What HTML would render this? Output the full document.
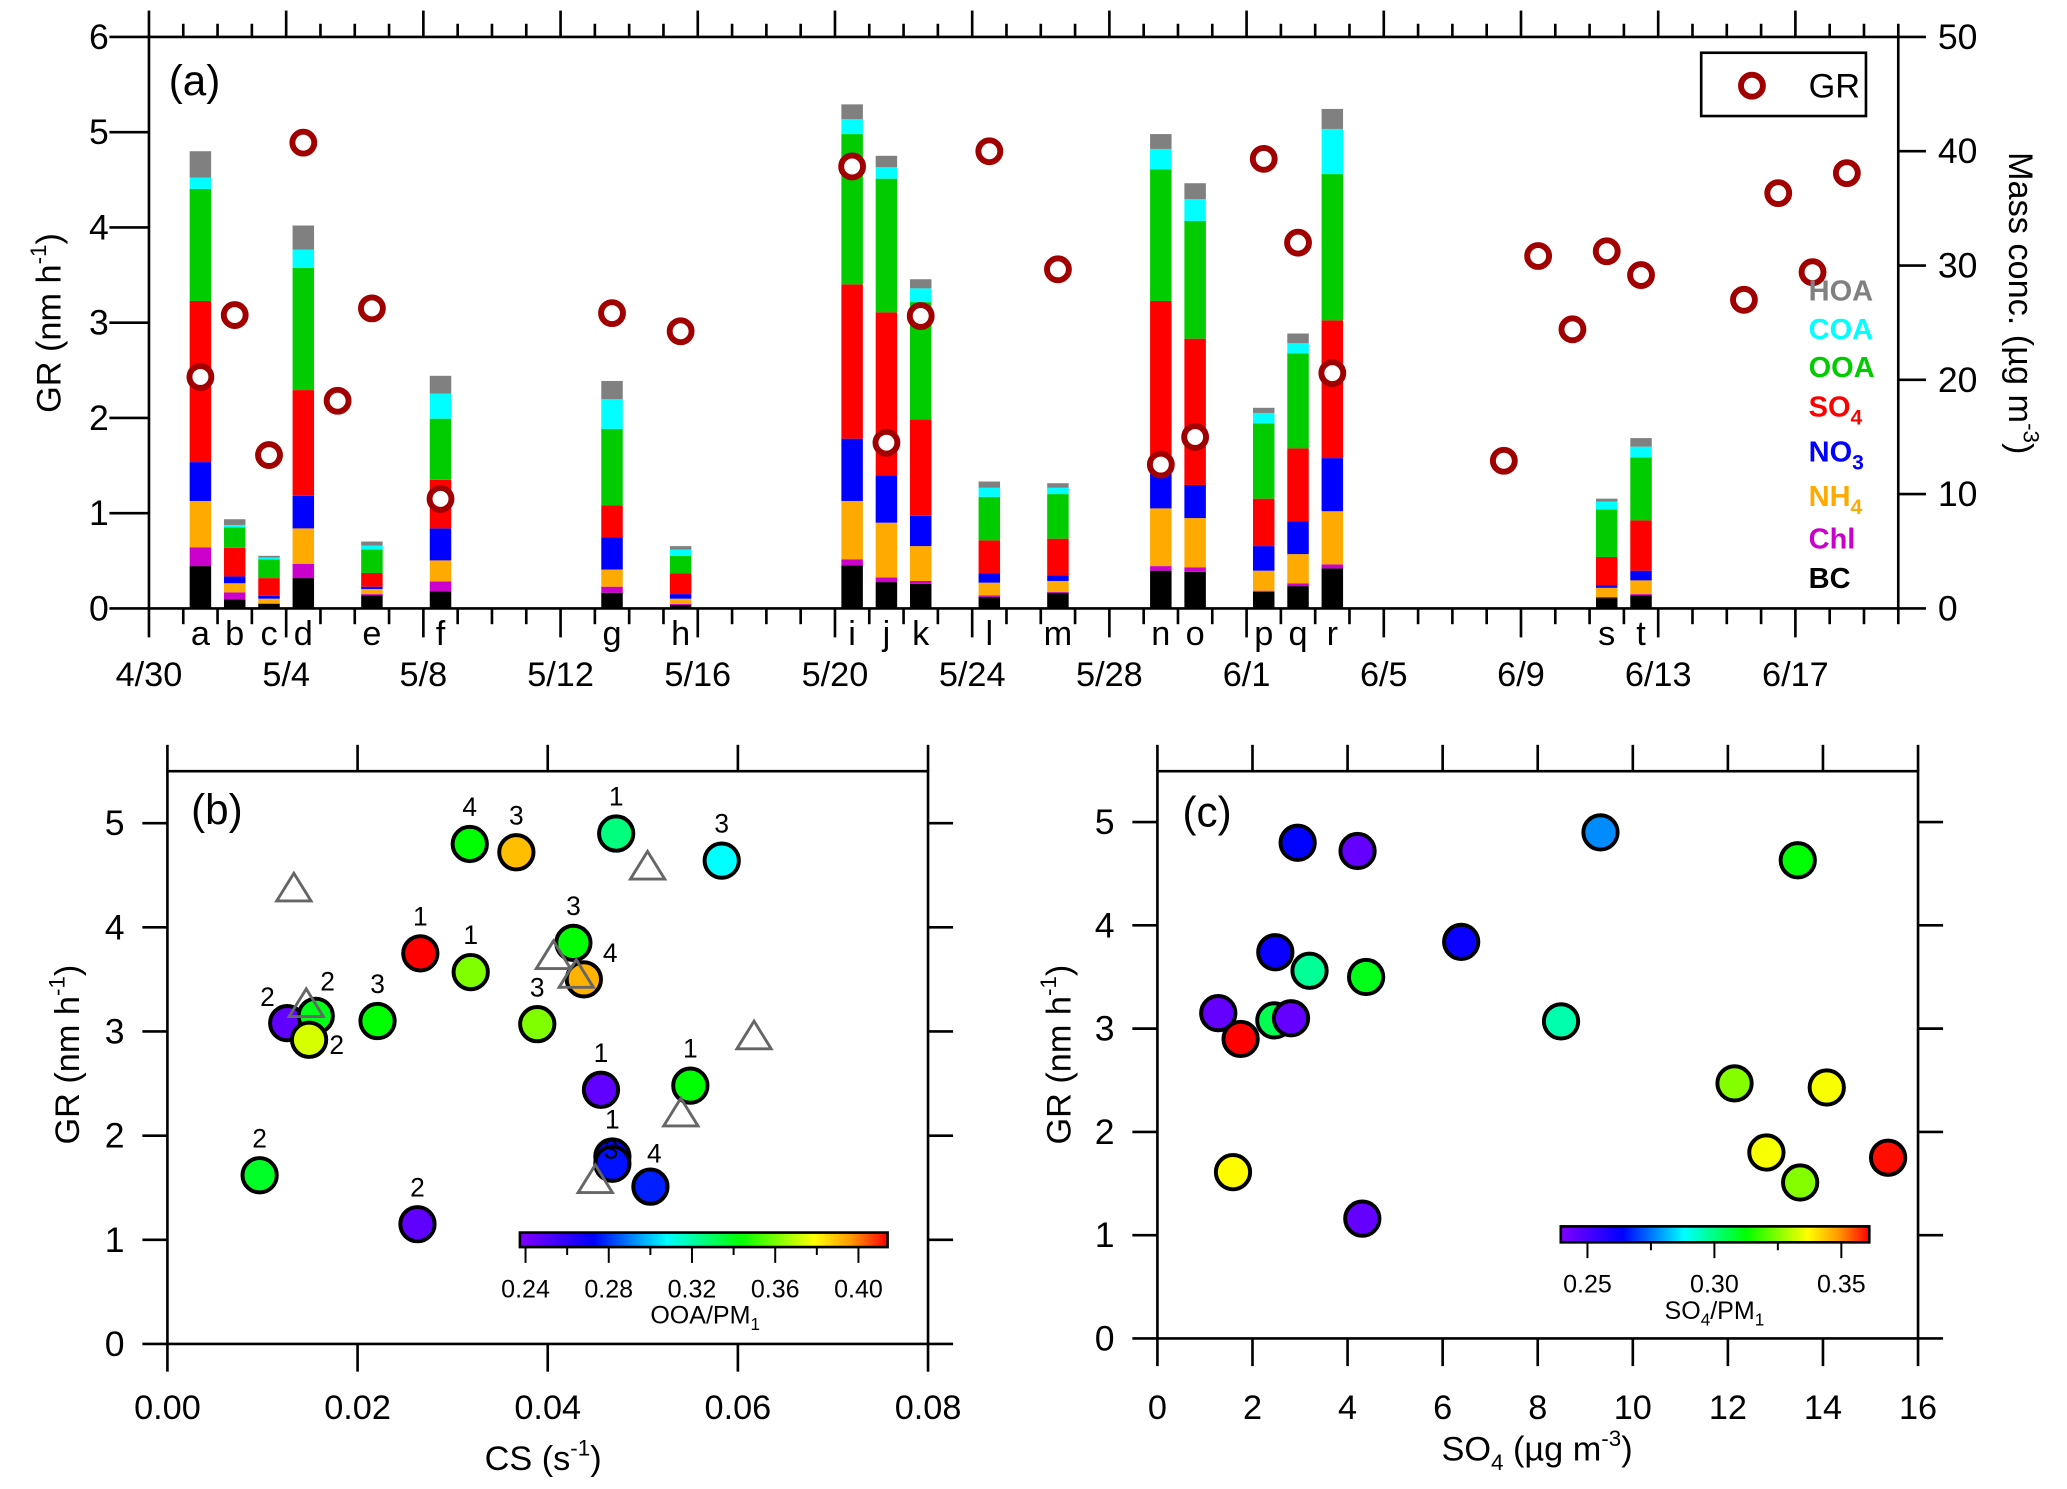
<!DOCTYPE html>
<html><head><meta charset="utf-8"><style>
html,body{margin:0;padding:0;background:#fff}
svg{display:block}
text{font-family:"Liberation Sans","DejaVu Sans",sans-serif;fill:#000}
</style></head><body>
<svg id="fig" xmlns="http://www.w3.org/2000/svg" width="2067" height="1489" viewBox="0 0 1568 1129.5">
<defs>
<linearGradient id="rb" x1="0" x2="1" y1="0" y2="0">
<stop offset="0" stop-color="#8000ff"/><stop offset="0.2" stop-color="#0000ff"/><stop offset="0.4" stop-color="#00ffff"/><stop offset="0.6" stop-color="#00ff00"/><stop offset="0.8" stop-color="#ffff00"/><stop offset="0.9" stop-color="#ff9900"/><stop offset="1" stop-color="#ff0000"/>
</linearGradient>
</defs>
<g id="pa"></g>
<g id="pb"></g>
<g id="pc"></g>
</svg>
<script>
// ---- Panel (a) data ----
const barLetters = ["a","b","c","d","e","f","g","h","i","j","k","l","m","n","o","p","q","r","s","t"];
const barDays = [1.5,2.5,3.5,4.5,6.5,8.5,13.5,15.5,20.5,21.5,22.5,24.5,26.5,29.5,30.5,32.5,33.5,34.5,42.5,43.5];
const bcVals  = [3.7,0.8,0.4,2.65,1.13,1.5,1.37,0.3,3.75,2.3,2.15,1.0,1.37,3.3,3.2,1.45,1.95,3.5,0.9,1.15];
const chlVals = [1.65,0.6,0.05,1.25,0.12,0.85,0.53,0.1,0.55,0.4,0.25,0.15,0.08,0.4,0.4,0.1,0.25,0.35,0.1,0.1];
const nh4Vals = [4.05,0.8,0.4,3.1,0.45,1.85,1.5,0.45,5.1,4.8,3.05,1.1,0.95,5.05,4.3,1.75,2.55,4.65,0.8,1.2];
const no3Vals = [3.4,0.6,0.25,2.85,0.2,2.8,2.8,0.4,5.45,4.15,2.65,0.8,0.5,4.6,2.9,2.15,2.85,4.65,0.2,0.85];
const so4Vals = [14.1,2.5,1.55,9.25,1.2,4.25,2.8,1.8,13.5,14.25,8.45,2.9,3.2,13.55,12.8,4.15,6.4,12.05,2.5,4.4];
const ooaVals = [9.8,1.8,1.65,10.7,2.05,5.35,6.7,1.55,13.15,11.7,10.25,3.8,3.9,11.5,10.3,6.6,8.3,12.8,4.15,5.5];
const coaVals = [1.0,0.2,0.15,1.6,0.35,2.2,2.6,0.55,1.3,1.0,1.2,0.8,0.55,1.8,1.9,0.9,0.9,3.95,0.7,0.95];
const hoaVals = [2.3,0.5,0.15,2.1,0.35,1.55,1.6,0.3,1.3,1.0,0.8,0.55,0.4,1.3,1.4,0.45,0.85,1.75,0.25,0.75];
const grDays = [1.5,2.5,3.5,4.5,5.5,6.5,8.5,13.5,15.5,20.5,21.5,22.5,24.5,26.5,29.5,30.5,32.5,33.5,34.5,39.5,40.5,41.5,42.5,43.5,46.5,47.5,48.5,49.5];
const grVals = [2.43,3.08,1.61,4.89,2.18,3.15,1.15,3.10,2.91,4.64,1.74,3.07,4.80,3.56,1.51,1.80,4.72,3.84,2.47,1.55,3.70,2.93,3.75,3.50,3.24,4.36,3.53,4.57];
const grTicks = [0,1,2,3,4,5,6];
const massTicks = [0,10,20,30,40,50];
const dateLabels = ["4/30","5/4","5/8","5/12","5/16","5/20","5/24","5/28","6/1","6/5","6/9","6/13","6/17"];
// ---- Panel (b) data ----
const csVals = [0.0318,0.0367,0.0472,0.0583,0.0266,0.0319,0.0427,0.0438,0.0126,0.0156,0.0149,0.0221,0.0389,0.0456,0.0550,0.0468,0.0468,0.0508,0.0097,0.0263];
const grB = [4.80,4.72,4.90,4.64,3.75,3.57,3.85,3.50,3.08,3.15,2.92,3.10,3.07,2.44,2.48,1.80,1.73,1.51,1.62,1.15];
const ooaFrac = [0.343,0.39,0.326,0.308,0.414,0.361,0.343,0.392,0.246,0.340,0.373,0.343,0.361,0.246,0.343,0.273,0.275,0.277,0.338,0.246];
const ptLabels = ["4","3","1","3","1","1","3","4","2","2","2","3","3","1","1","1","3","4","2","2"];
const triCS = [0.0133,0.0505,0.0406,0.0430,0.0146,0.0617,0.0540,0.0450];
const triGR = [4.38,4.59,3.73,3.55,3.27,2.96,2.22,1.58];
const csTicks = [0,0.02,0.04,0.06,0.08];
const csTickLabels = ["0.00","0.02","0.04","0.06","0.08"];
const cbBTicks = [0.24,0.28,0.32,0.36,0.40];
const cbBLabels = ["0.24","0.28","0.32","0.36","0.40"];
// ---- Panel (c) data ----
const so4C = [2.95,4.21,9.32,13.47,2.48,3.2,4.39,6.39,1.28,1.75,2.46,2.81,8.49,12.14,14.08,12.81,13.52,15.37,1.59,4.31];
const grC = [4.80,4.72,4.90,4.63,3.74,3.56,3.50,3.84,3.15,2.90,3.08,3.10,3.07,2.47,2.43,1.80,1.51,1.75,1.61,1.16];
const so4Frac = [0.264,0.245,0.277,0.312,0.262,0.298,0.310,0.262,0.245,0.361,0.305,0.245,0.296,0.325,0.336,0.336,0.325,0.36,0.337,0.245];
const so4Ticks = [0,2,4,6,8,10,12,14,16];
const cbCTicks = [0.25,0.30,0.35];
const cbCLabels = ["0.25","0.30","0.35"];

const NS="http://www.w3.org/2000/svg";
function mk(tag, parent, at){const e=document.createElementNS(NS,tag);for(const k in at)e.setAttribute(k,at[k]);parent.appendChild(e);return e;}
function tx(parent,x,y,s,fs,anchor,extra){const e=mk('text',parent,Object.assign({x:x,y:y,'font-size':fs,'text-anchor':anchor||'middle','dominant-baseline':'central'},extra||{}));e.textContent=s;return e;}
const stops=[[0,[128,0,255]],[0.2,[0,0,255]],[0.4,[0,255,255]],[0.6,[0,255,0]],[0.8,[255,255,0]],[0.9,[255,153,0]],[1,[255,0,0]]];
function rainbow(t){t=Math.max(0,Math.min(1,t));for(let i=1;i<stops.length;i++){if(t<=stops[i][0]){const a=stops[i-1],b=stops[i];const f=(t-a[0])/(b[0]-a[0]);const c=a[1].map((v,j)=>Math.round(v+(b[1][j]-v)*f));return 'rgb('+c.join(',')+')';}}return 'rgb(255,0,0)';}

// ================= Panel A =================
const pa=document.getElementById('pa');
const X0=113, DAY=26.02, XR=1440, YT=28, YB=461.5;
const xA=d=>X0+d*DAY, yGR=v=>YB-v*(YB-YT)/6, yM=v=>YB-v*(YB-YT)/50;
const comps=[[bcVals,'#000000','bc'],[chlVals,'#cc00cc','chl'],[nh4Vals,'#ffaa00','nh4'],[no3Vals,'#0000ff','no3'],[so4Vals,'#ff0000','so4'],[ooaVals,'#00cc00','ooa'],[coaVals,'#00ffff','coa'],[hoaVals,'#808080','hoa']];
const BW=16.3;
for(let i=0;i<barDays.length;i++){
  let cum=0;const cx=xA(barDays[i]);
  const g=mk('g',pa,{});
  
  
  for(const [arr,col,nm] of comps){
    const v=arr[i];const r=mk('rect',g,{x:cx-BW/2,y:yM(cum+v),width:BW,height:yM(cum)-yM(cum+v),fill:col});
    
    
    cum+=v;
  }
  const l=tx(pa,cx,481,barLetters[i],26);
  
  
}
// axes frame
const fa=mk('path',pa,{d:`M${X0} ${YT}H${XR}M${X0} ${YB}H${XR}M${X0} ${YT}V${YB}M${XR} ${YT}V${YB}`,stroke:'#000','stroke-width':2,fill:'none'});


// date ticks
for(let d=0;d<=51;d++){
  const x=xA(d);const maj=d%4===0;
  mk('line',pa,{x1:x,x2:x,y1:YB,y2:YB+(maj?22:12),stroke:'#000','stroke-width':2});
  mk('line',pa,{x1:x,x2:x,y1:YT,y2:YT-(maj?20:10),stroke:'#000','stroke-width':2});
}
dateLabels.forEach((s,i)=>{const t=tx(pa,xA(i*4),512,s,26);});
grTicks.forEach(v=>{mk('line',pa,{x1:X0-30,x2:X0,y1:yGR(v),y2:yGR(v),stroke:'#000','stroke-width':2});const t=tx(pa,75,yGR(v),String(v),27);});
massTicks.forEach(v=>{mk('line',pa,{x1:XR,x2:XR+21,y1:yM(v),y2:yM(v),stroke:'#000','stroke-width':2});const t=tx(pa,1470,yM(v),String(v),27,'start');});
// GR circles
for(let i=0;i<grDays.length;i++){
  const c=mk('circle',pa,{cx:xA(grDays[i]),cy:yGR(grVals[i]),r:8.3,fill:'#fff',stroke:'#a00000','stroke-width':4.5});
  
  
}
</script>
<script>
// static labels panel A
(function(){
const pa=document.getElementById('pa');
const NS="http://www.w3.org/2000/svg";
function mk(tag,p,at){const e=document.createElementNS(NS,tag);for(const k in at)e.setAttribute(k,at[k]);p.appendChild(e);return e;}
const a=mk('text',pa,{x:128,y:72,'font-size':32});a.textContent='(a)';


const yl=mk('text',pa,{x:0,y:0,'font-size':26,'text-anchor':'middle',transform:'translate(46,245) rotate(-90)'});
yl.innerHTML='GR (nm h<tspan font-size="17" dy="-11">-1</tspan><tspan dy="11">)</tspan>';


const yr=mk('text',pa,{x:0,y:0,'font-size':26,'text-anchor':'middle',transform:'translate(1524,230) rotate(90)'});
yr.innerHTML='Mass conc. (µg m<tspan font-size="17" dy="-11">-3</tspan><tspan dy="11">)</tspan>';


const lg=mk('g',pa,{});


mk('rect',lg,{x:1290.5,y:40,width:125,height:48,fill:'#fff',stroke:'#000','stroke-width':2});
mk('circle',lg,{cx:1329,cy:65,r:8.3,fill:'#fff',stroke:'#a00000','stroke-width':4.5});
const lt=mk('text',lg,{x:1372,y:74,'font-size':26});lt.textContent='GR';
const lab=[['HOA','#808080',220],['COA','#00ffff',249],['OOA','#00cc00',278],['SO','#ff0000',308,'4'],['NO','#0000ff',342,'3'],['NH','#ffaa00',376,'4'],['Chl','#cc00cc',408],['BC','#000000',438]];
lab.forEach(l=>{const t=mk('text',pa,{x:1372,y:l[2]+8,'font-size':22,'font-weight':'bold',fill:l[1],style:'fill:'+l[1]});
t.innerHTML=l[0]+(l[3]?'<tspan font-size="16" dy="6">'+l[3]+'</tspan>':'');

});
})();
</script>
<script>
// ================= Panels B & C =================
(function(){
const NS="http://www.w3.org/2000/svg";
function mk(tag,p,at){const e=document.createElementNS(NS,tag);for(const k in at)e.setAttribute(k,at[k]);p.appendChild(e);return e;}
function tx(p,x,y,s,fs,anchor){const e=mk('text',p,{x:x,y:y,'font-size':fs,'text-anchor':anchor||'middle','dominant-baseline':'central'});e.textContent=s;return e;}
const stops=[[0,[128,0,255]],[0.2,[0,0,255]],[0.4,[0,255,255]],[0.6,[0,255,0]],[0.8,[255,255,0]],[0.9,[255,153,0]],[1,[255,0,0]]];
function rainbow(t){t=Math.max(0,Math.min(1,t));for(let i=1;i<stops.length;i++){if(t<=stops[i][0]){const a=stops[i-1],b=stops[i];const f=(t-a[0])/(b[0]-a[0]);return 'rgb('+a[1].map((v,j)=>Math.round(v+(b[1][j]-v)*f)).join(',')+')';}}return 'rgb(255,0,0)';}

function frame(p,L,R,T,B,xt,xf,yf,xlab,name){
  const f=mk('path',p,{d:`M${L} ${T}H${R}V${B}H${L}Z`,stroke:'#000','stroke-width':2,fill:'none'});
  
  
  xt.forEach((v,i)=>{const x=xf(v);
    mk('line',p,{x1:x,x2:x,y1:B,y2:B+21,stroke:'#000','stroke-width':2});
    mk('line',p,{x1:x,x2:x,y1:T,y2:T-20,stroke:'#000','stroke-width':2});
    const t=tx(p,x,1068,xlab[i],26);});
  [0,1,2,3,4,5].forEach(v=>{const y=yf(v);
    mk('line',p,{x1:L-19,x2:L,y1:y,y2:y,stroke:'#000','stroke-width':2});
    mk('line',p,{x1:R,x2:R+19,y1:y,y2:y,stroke:'#000','stroke-width':2});
    const t=tx(p,L-40,y,String(v),27);});
}
function colorbar(p,L,R,T,B,lo,hi,ticks,labels,minor,title,sub,name){
  const g=mk('g',p,{});
  
  
  mk('rect',g,{x:L,y:T,width:R-L,height:B-T,fill:'url(#rb)',stroke:'#000','stroke-width':2});
  const xf=v=>L+(v-lo)/(hi-lo)*(R-L);
  ticks.forEach((v,i)=>{mk('line',g,{x1:xf(v),x2:xf(v),y1:B,y2:B+12,stroke:'#000','stroke-width':1.5});tx(g,xf(v),B+32,labels[i],19);});
  minor.forEach(v=>{mk('line',g,{x1:xf(v),x2:xf(v),y1:B,y2:B+6,stroke:'#000','stroke-width':1.5});});
  const t=mk('text',g,{x:(xf(ticks[0])+xf(ticks[ticks.length-1]))/2+(sub?10:0),y:B+58,'font-size':19,'text-anchor':'middle'});
  t.innerHTML=title;
}
// Panel B
const pb=document.getElementById('pb');
const bL=127,bR=704,bT=585,bB=1019.5;
const xb=v=>bL+v/0.08*(bR-bL), yb=v=>bB-v*(bB-624.4)/5;
frame(pb,bL,bR,bT,bB,csTicks,xb,yb,csTickLabels,'panel-b');
const bLo=0.2373,bHi=0.414;
colorbar(pb,394.4,673.3,935,946,bLo,bHi,cbBTicks,cbBLabels,[0.26,0.30,0.34,0.38],'OOA/PM<tspan font-size="13" dy="5">1</tspan>',true,'colorbar-b');
const offX=[0,0,0,0,0,0,0,20,-15,9,21,0,0,0,0,0,-1,3,0,0];
const offY=[-28,-28,-28,-28,-28,-28,-28,-20,-20,-26,4,-28,-28,-28,-28,-28,-11,-25,-28,-28];
for(let i=0;i<csVals.length;i++){
  const c=mk('circle',pb,{cx:xb(csVals[i]),cy:yb(grB[i]),r:13,fill:rainbow((ooaFrac[i]-bLo)/(bHi-bLo)),stroke:'#000','stroke-width':3});
  
  
}
for(let i=0;i<csVals.length;i++){
  const t=tx(pb,xb(csVals[i])+offX[i],yb(grB[i])+offY[i],ptLabels[i],20);
  
  
}
for(let i=0;i<triCS.length;i++){
  const x=xb(triCS[i]),y=yb(triGR[i]);
  const t=mk('path',pb,{d:`M${x} ${y-11}L${x+13} ${y+10}L${x-13} ${y+10}Z`,fill:'none',stroke:'#666','stroke-width':2.2});
  
  
}
const lb=mk('text',pb,{x:145,y:625,'font-size':32});lb.textContent='(b)';


const byl=mk('text',pb,{x:0,y:0,'font-size':26,'text-anchor':'middle',transform:'translate(60,800) rotate(-90)'});
byl.innerHTML='GR (nm h<tspan font-size="17" dy="-11">-1</tspan><tspan dy="11">)</tspan>';


const bxl=mk('text',pb,{x:412,y:1115,'font-size':26,'text-anchor':'middle'});
bxl.innerHTML='CS (s<tspan font-size="17" dy="-11">-1</tspan><tspan dy="11">)</tspan>';



// Panel C
const pc=document.getElementById('pc');
const cL=878,cR=1455,cT=585,cB=1015.3;
const xc=v=>cL+v/16*(cR-cL), yc=v=>cB-v*(cB-623.6)/5;
frame(pc,cL,cR,cT,cB,so4Ticks,xc,yc,so4Ticks.map(String),'panel-c');
const cLo=0.2395,cHi=0.361;
colorbar(pc,1184,1418,930.3,942.4,cLo,cHi,cbCTicks,cbCLabels,[0.275,0.325],'SO<tspan font-size="13" dy="5">4</tspan><tspan dy="-5">/PM</tspan><tspan font-size="13" dy="5">1</tspan>',false,'colorbar-c');
for(let i=0;i<so4C.length;i++){
  const c=mk('circle',pc,{cx:xc(so4C[i]),cy:yc(grC[i]),r:13,fill:rainbow((so4Frac[i]-cLo)/(cHi-cLo)),stroke:'#000','stroke-width':3});
  
  
}
const lc=mk('text',pc,{x:897,y:627,'font-size':32});lc.textContent='(c)';


const cyl=mk('text',pc,{x:0,y:0,'font-size':26,'text-anchor':'middle',transform:'translate(812,800) rotate(-90)'});
cyl.innerHTML='GR (nm h<tspan font-size="17" dy="-11">-1</tspan><tspan dy="11">)</tspan>';


const cxl=mk('text',pc,{x:1166,y:1108,'font-size':26,'text-anchor':'middle'});
cxl.innerHTML='SO<tspan font-size="17" dy="7">4</tspan><tspan dy="-7"> (µg m</tspan><tspan font-size="17" dy="-11">-3</tspan><tspan dy="11">)</tspan>';


})();
</script>
</body></html>
